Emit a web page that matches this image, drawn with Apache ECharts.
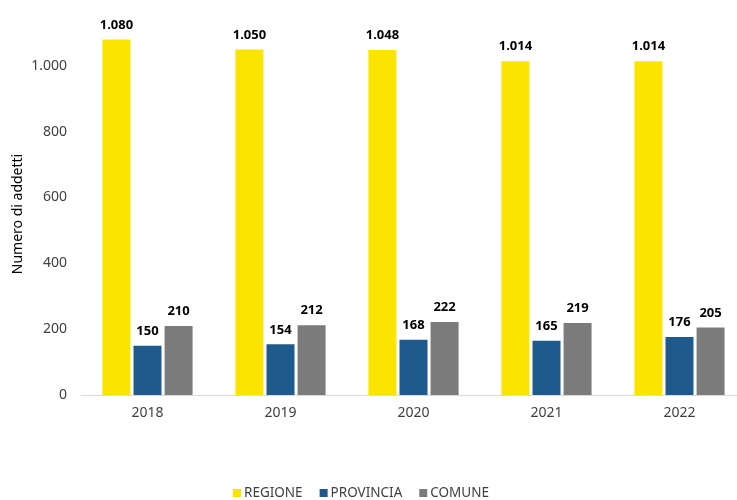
<!DOCTYPE html>
<html>
<head>
<meta charset="utf-8">
<script src="https://cdn.jsdelivr.net/npm/echarts@6/dist/echarts.min.js"></script>
<style>
  html, body { margin: 0; padding: 0; background: #fff; overflow: hidden; }
  /* wider than the window: the plot runs past the right edge, as in the source */
  #chart { width: 760px; height: 500px; }
</style>
</head>
<body>
<div id="chart"></div>
<script>
const years = ["2018", "2019", "2020", "2021", "2022"];
const regione = [1080, 1050, 1048, 1014, 1014];
const provincia = [150, 154, 168, 165, 176];
const comune = [210, 212, 222, 219, 205];

const font = "Noto Sans";

// 1080 -> "1.080"
const itNum = (v) => String(v).replace(/\B(?=(\d{3})+(?!\d))/g, ".");

const label = {
  show: true,
  position: "top",
  distance: 8,
  fontFamily: font,
  fontSize: 13,
  fontWeight: "bold",
  color: "#000",
  formatter: (p) => itNum(p.value)
};

const makeSeries = (name, data, color) => ({
  name: name,
  type: "bar",
  data: data,
  barWidth: 28,
  barGap: "11%",
  itemStyle: { color: color },
  label: label
});

const chart = echarts.init(document.getElementById("chart"));

chart.setOption({
  animation: false,
  textStyle: { fontFamily: font },
  grid: { left: 81, width: 665, top: -2, height: 397 },
  legend: {
    top: 481,
    left: 228,
    icon: "rect",
    itemWidth: 8,
    itemHeight: 8,
    itemGap: 17,
    textStyle: { fontFamily: font, fontSize: 13.5, color: "#404040", padding: [0, 0, 0, -2] },
    data: ["REGIONE", "PROVINCIA", "COMUNE"]
  },
  xAxis: {
    type: "category",
    data: years,
    axisLine: { lineStyle: { color: "#d9d9d9", width: 1 } },
    axisTick: { show: false },
    axisLabel: { fontFamily: font, fontSize: 14, color: "#404040", margin: 11 }
  },
  yAxis: {
    type: "value",
    min: 0,
    max: 1200,
    interval: 200,
    splitLine: { show: false },
    axisLine: { show: false },
    axisTick: { show: false },
    axisLabel: {
      fontFamily: font,
      fontSize: 14,
      color: "#404040",
      margin: 14,
      formatter: (v) => (v > 1000 ? "" : itNum(v))
    }
  },
  graphic: [{
    type: "text",
    x: 18,
    y: 214,
    rotation: Math.PI / 2,
    style: {
      text: "Numero di addetti",
      fontFamily: font,
      fontSize: 14,
      fill: "#000",
      align: "center",
      verticalAlign: "middle"
    }
  }],
  series: [
    makeSeries("REGIONE", regione, "#fbe500"),
    makeSeries("PROVINCIA", provincia, "#1f5a8c"),
    makeSeries("COMUNE", comune, "#7b7b7b")
  ]
});
</script>
</body>
</html>
